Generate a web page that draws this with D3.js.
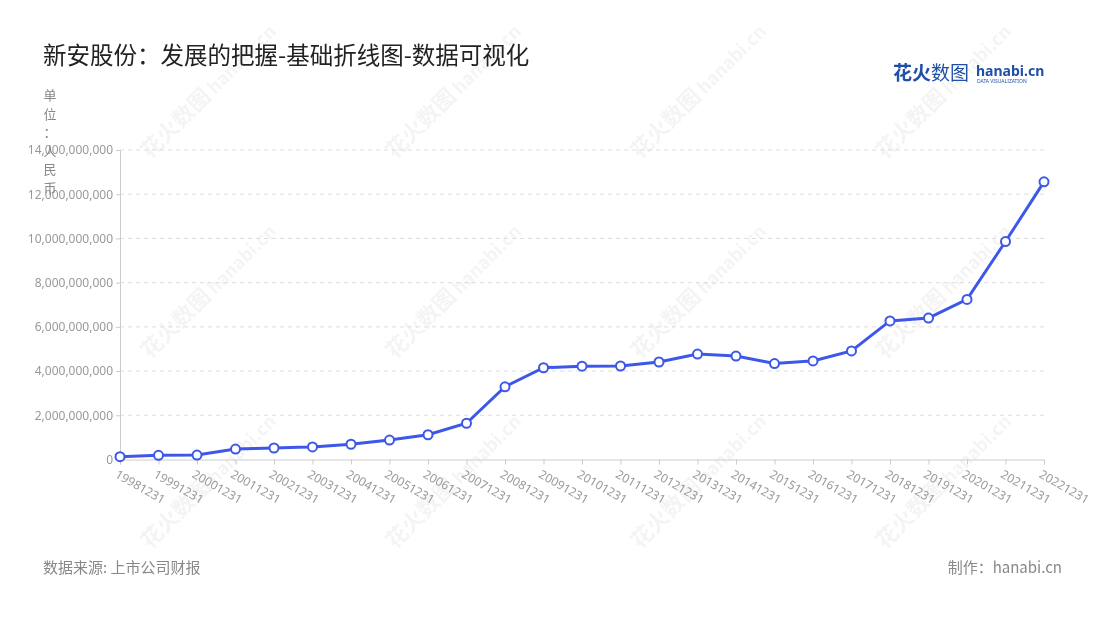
<!DOCTYPE html>
<html><head><meta charset="utf-8">
<script src="https://cdn.jsdelivr.net/npm/d3@7"></script>
<style>body{margin:0;background:#fff;font-family:"Noto Sans CJK SC","Noto Sans",sans-serif;}</style>
</head><body><svg id="c" width="1100" height="620"></svg>
<script>
const categories=["19981231","19991231","20001231","20011231","20021231","20031231","20041231","20051231","20061231","20071231","20081231","20091231","20101231","20111231","20121231","20131231","20141231","20151231","20161231","20171231","20181231","20191231","20201231","20211231","20221231"];
const values=[0.13e9,0.19e9,0.2e9,0.47e9,0.52e9,0.57e9,0.69e9,0.88e9,1.12e9,1.64e9,3.29e9,4.15e9,4.22e9,4.23e9,4.41e9,4.77e9,4.68e9,4.34e9,4.46e9,4.91e9,6.27e9,6.40e9,7.24e9,9.86e9,12.56e9];
const yTicks=[0,2e9,4e9,6e9,8e9,10e9,12e9,14e9];
const svg=d3.select("#c");
const x=d3.scalePoint().domain(categories).range([120,1044]);
const y=d3.scaleLinear().domain([0,14e9]).range([459.5,150]);
const wm=svg.append("g").attr("fill","#000").attr("opacity",0.045).attr("font-weight","bold");
[[150,160],[395,160],[640,160],[885,160],[150,360],[395,360],[640,360],[885,360],[150,550],[395,550],[640,550],[885,550]].forEach(([a,b])=>{
 const g=wm.append("g").attr("transform",`translate(${a},${b}) rotate(-45)`);
 g.append("text").attr("font-size",22).text("花火数图");
 g.append("text").attr("x",92).attr("font-size",18).text("hanabi.cn");
});
svg.append("text").attr("x",43).attr("y",64).attr("font-size",23.5).attr("fill","#222").text("新安股份：发展的把握-基础折线图-数据可视化");
svg.append("g").selectAll("line").data(yTicks.slice(1)).join("line")
 .attr("x1",120).attr("x2",1044).attr("y1",d=>y(d)).attr("y2",d=>y(d))
 .attr("stroke","#ddd").attr("stroke-dasharray","4,4");
const ya=svg.append("g").attr("transform","translate(120,0)").call(d3.axisLeft(y).tickValues(yTicks).tickFormat(d3.format(",")).tickSize(4));
ya.select(".domain").attr("stroke","#ccc");ya.selectAll("line").attr("stroke","#ccc");
ya.selectAll("text").attr("fill","#999").attr("font-size",12).attr("font-family","Noto Sans");
const xa=svg.append("g").attr("transform","translate(0,459.5)").call(d3.axisBottom(x).tickSize(5));
xa.select(".domain").attr("stroke","#ccc");xa.selectAll("line").attr("stroke","#ccc");
xa.selectAll("text").attr("fill","#999").attr("font-size",12).attr("font-family","Noto Sans")
 .attr("text-anchor","start").attr("transform","translate(2,3) rotate(30)").attr("dy","0.7em");
const unit="单位：人民币".split("");
svg.append("g").selectAll("text").data(unit).join("text").attr("x",50).attr("y",(d,i)=>100+i*18.5)
 .attr("text-anchor","middle").attr("font-size",13).attr("fill","#888").text(d=>d);
svg.append("path").datum(values).attr("fill","none").attr("stroke","#3d57e8").attr("stroke-width",3)
 .attr("d",d3.line().x((d,i)=>x(categories[i])).y(d=>y(d)));
svg.append("g").selectAll("circle").data(values).join("circle").attr("cx",(d,i)=>x(categories[i])).attr("cy",d=>y(d))
 .attr("r",4.5).attr("fill","#fff").attr("stroke","#3d57e8").attr("stroke-width",2);
svg.append("text").attr("x",43).attr("y",573).attr("font-size",15).attr("fill","#888").text("数据来源: 上市公司财报");
svg.append("text").attr("x",1062).attr("y",573).attr("text-anchor","end").attr("font-size",15).attr("fill","#888").text("制作：hanabi.cn");
svg.append("text").attr("x",893).attr("y",80).attr("font-size",19).attr("font-weight","bold").attr("fill","#1f4fa8").text("花火");
svg.append("text").attr("x",931).attr("y",80).attr("font-size",19).attr("fill","#1f4fa8").text("数图");
svg.append("text").attr("x",976).attr("y",76).attr("font-size",14).attr("font-weight","bold").attr("fill","#1f4fa8").attr("font-family","Noto Sans").text("hanabi.cn");
svg.append("text").attr("x",977).attr("y",83).attr("font-size",5).attr("fill","#1f4fa8").attr("font-family","Noto Sans").text("DATA VISUALIZATION");
</script></body></html>
